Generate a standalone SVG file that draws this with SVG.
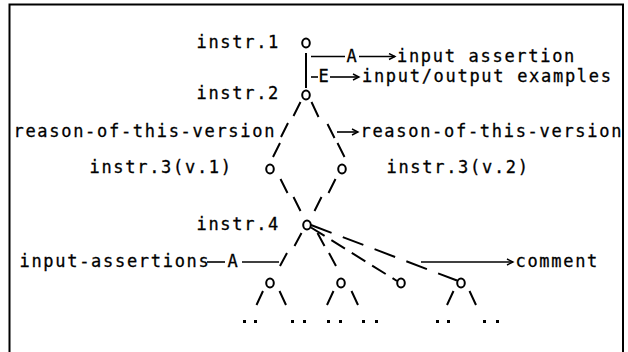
<svg xmlns="http://www.w3.org/2000/svg" width="628" height="352" viewBox="0 0 628 352">
<style>
text{font-family:"DejaVu Sans Mono","Liberation Mono",monospace;font-size:17px;letter-spacing:1.7px;fill:#000;stroke:#000;stroke-width:0.3}
.node{fill:#fff;stroke:#000;stroke-width:2}
.sl{stroke:#000;stroke-width:2;stroke-linecap:butt;fill:none}
.ln{stroke:#000;stroke-width:1.6;fill:none}
.dot{fill:#000}
</style>
<defs>
<marker id="ah" markerUnits="userSpaceOnUse" markerWidth="10" markerHeight="10" refX="7" refY="4" orient="auto">
<path d="M1,1 L7,4 L1,7" fill="none" stroke="#000" stroke-width="1.4"/>
</marker>
</defs>
<rect width="628" height="352" fill="#fff"/>
<g id="frame" fill="none" stroke="#000" stroke-width="2">
<path d="M9.5,352 V4.5 H623 V352"/>
</g>
<g id="n1"><ellipse class="node" cx="306" cy="43" rx="3.8" ry="4.5"/><text x="196.5" y="48">instr.1</text></g>
<g id="n2"><ellipse class="node" cx="306" cy="95" rx="3.8" ry="4.5"/><text x="196.5" y="99">instr.2</text></g>
<g id="n3a"><ellipse class="node" cx="270" cy="169" rx="3.8" ry="4.5"/><text x="89.5" y="173">instr.3(v.1)</text></g>
<g id="n3b"><ellipse class="node" cx="342" cy="169" rx="3.8" ry="4.5"/><text x="386.5" y="173">instr.3(v.2)</text></g>
<g id="n4"><ellipse class="node" cx="307" cy="225" rx="3.8" ry="4.5"/><text x="196.5" y="230">instr.4</text></g>
<g id="c1"><ellipse class="node" cx="270" cy="283" rx="3.8" ry="4.5"/></g>
<g id="c2"><ellipse class="node" cx="341" cy="283" rx="3.8" ry="4.5"/></g>
<g id="c3"><ellipse class="node" cx="401" cy="283" rx="3.8" ry="4.5"/></g>
<g id="c4"><ellipse class="node" cx="461" cy="283" rx="3.8" ry="4.5"/></g>
<g id="connectors">
<line class="sl" x1="306" y1="53" x2="306" y2="88"/>
<line class="ln" x1="311" y1="56.5" x2="345" y2="56.5"/>
<line class="ln" x1="359" y1="56.5" x2="395" y2="56.5" marker-end="url(#ah)"/>
<line class="ln" x1="311" y1="77" x2="318" y2="77"/>
<line class="ln" x1="330" y1="77" x2="359" y2="77" marker-end="url(#ah)"/>
<path class="sl" d="M300.5,102 L293.5,116 M288,123 L281,137 M280,143 L273,157"/>
<path class="sl" d="M311.5,102 L318.5,117 M327.5,124 L334.5,138 M337.5,143 L344.5,157"/>
<line class="ln" x1="337" y1="132" x2="358" y2="132" marker-end="url(#ah)"/>
<path class="sl" d="M280.5,179 L287.5,193 M293.5,197 L300.5,211"/>
<path class="sl" d="M335.5,179 L328.5,193 M321.5,197 L314.5,211"/>
<path class="sl" d="M301.5,233 L294.5,246 M287,253 L280,266"/>
<path class="sl" d="M317.5,233 L324.5,246 M329,253 L336,266"/>
<line class="ln" x1="207" y1="262" x2="225" y2="262"/>
<line class="ln" x1="242" y1="262" x2="279" y2="262"/>
<line class="sl" x1="311" y1="227.5" x2="397" y2="281" stroke-dasharray="16 8"/>
<line class="sl" x1="311" y1="225" x2="457" y2="280.5" stroke-dasharray="22 12"/>
<line class="ln" x1="421" y1="262" x2="513" y2="262" marker-end="url(#ah)"/>
<path class="sl" d="M263,291 L256.5,305 M279.5,291 L286,305"/>
<path class="sl" d="M333.5,291 L327,305 M351.5,291 L358,305"/>
<path class="sl" d="M453.5,291 L447,305 M469.5,291 L476,305"/>
</g>
<g id="labels">
<text x="346.5" y="61.5">A</text>
<text x="397" y="61.5">input assertion</text>
<text x="318.5" y="82">E</text>
<text x="362" y="82">input/output examples</text>
<text x="13.5" y="137">reason-of-this-version</text>
<text x="360.5" y="137">reason-of-this-version</text>
<text x="19.5" y="267">input-assertions</text>
<text x="227.5" y="267">A</text>
<text x="515.5" y="267">comment</text>
</g>
<g id="leaves" class="dot">
<rect x="243" y="320" width="3" height="3"/><rect x="254" y="320" width="3" height="3"/>
<rect x="291" y="320" width="3" height="3"/><rect x="303" y="320" width="3" height="3"/>
<rect x="327" y="320" width="3" height="3"/><rect x="339" y="320" width="3" height="3"/>
<rect x="362" y="320" width="3" height="3"/><rect x="375" y="320" width="3" height="3"/>
<rect x="436" y="320" width="3" height="3"/><rect x="447" y="320" width="3" height="3"/>
<rect x="483" y="320" width="3" height="3"/><rect x="496" y="320" width="3" height="3"/>
</g>
</svg>
